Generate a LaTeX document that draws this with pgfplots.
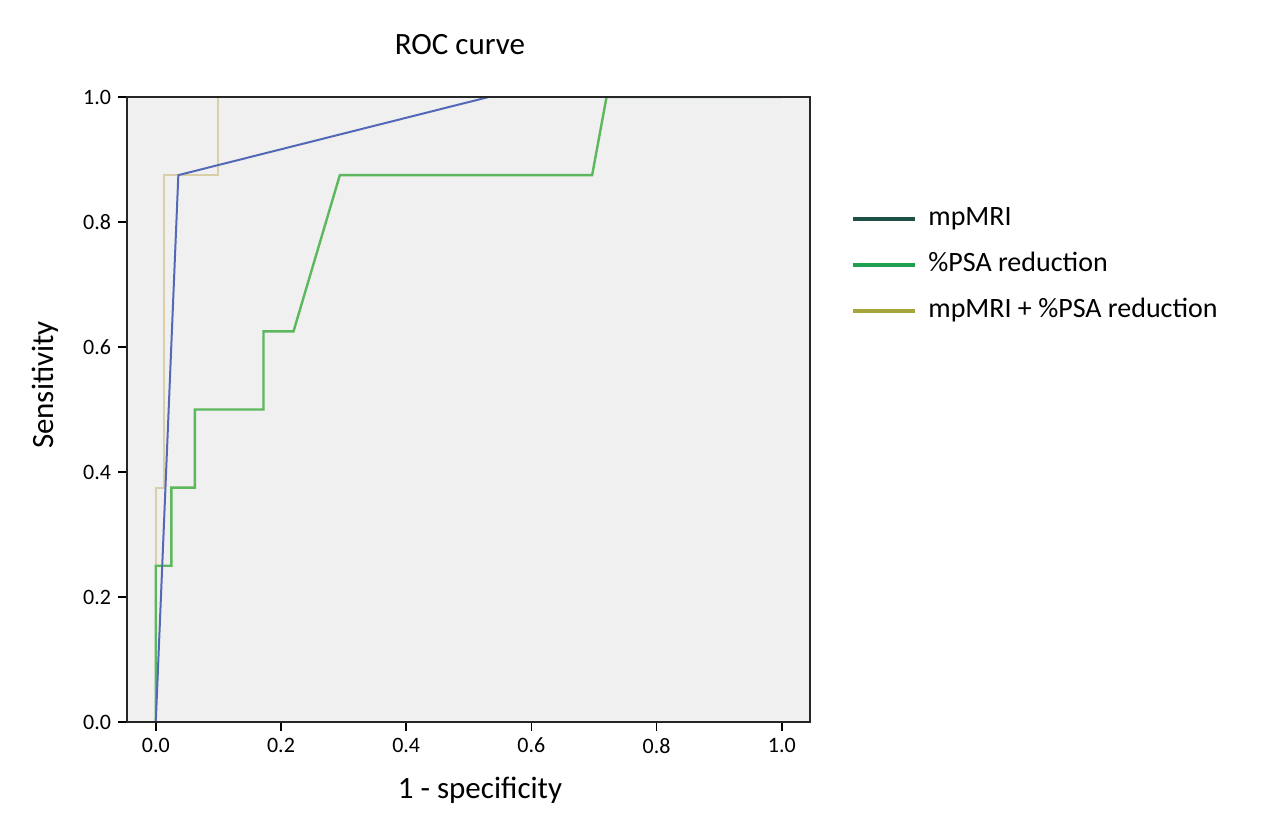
\documentclass[border=0pt]{standalone}
\usepackage{fontspec}
\setmainfont{Carlito}
\usepackage{pgfplots}
\pgfplotsset{compat=1.18}
\definecolor{bgc}{RGB}{240,240,240}
\definecolor{lblue}{RGB}{84,104,184}
\definecolor{lgreen}{RGB}{92,184,92}
\definecolor{lbeige}{RGB}{216,206,168}
\definecolor{legA}{RGB}{30,80,70}
\definecolor{legB}{RGB}{30,160,80}
\definecolor{legC}{RGB}{165,165,60}
\begin{document}
\begin{tikzpicture}
\path[use as bounding box] (-63.5bp,-51.5bp) rectangle (570bp,361bp);
\begin{axis}[
  at={(0,0)}, anchor=south west,
  scale only axis, width=341.5bp, height=312.5bp,
  xmin=-0.046, xmax=1.045, ymin=0, ymax=1,
  axis on top,
  axis background/.style={fill=bgc},
  axis line style={line width=1bp, black!85},
  tick style={line width=0.8bp, black},
  tick align=outside, major tick length=4.5bp,
  xtick={0,0.2,0.4,0.6,0.8,1}, ytick={0,0.2,0.4,0.6,0.8,1},
  xtick pos=bottom, ytick pos=left,
  ticklabel style={font=\fontsize{11bp}{12bp}\selectfont},
  /pgf/number format/fixed, /pgf/number format/fixed zerofill,
  /pgf/number format/precision=1, /pgf/number format/assume math mode=true,
  legend style={at={(1.060,0.827)}, anchor=north west, draw=none, fill=none,
    inner sep=0pt, font=\fontsize{14bp}{16bp}\selectfont, row sep=10bp,
    nodes={inner sep=0pt, text height=10bp, text depth=3bp},
    /tikz/every odd column/.append style={column sep=5.5bp}},
  legend cell align=left,
  legend image code/.code={\draw[#1, line width=2bp] (0bp,0bp) -- (31bp,0bp);},
]
\addplot[color=lbeige, line width=1bp, forget plot] coordinates {
(0,0) (0,0.375) (0.013,0.375) (0.013,0.875) (0.1,0.875) (0.1,1) (1,1)};
\addplot[color=lgreen, line width=1.2bp, forget plot] coordinates {
(0,0) (0,0.25) (0.025,0.25) (0.025,0.375) (0.0625,0.375) (0.0625,0.5) (0.172,0.5) (0.172,0.625) (0.22,0.625) (0.294,0.875) (0.697,0.875) (0.72,1) (1,1)};
\addplot[color=lblue, line width=1bp, forget plot] coordinates {
(0,0) (0.036,0.875) (0.532,1) (1,1)};
\addlegendimage{color=legA}
\addlegendentry{mpMRI}
\addlegendimage{color=legB}
\addlegendentry{\%PSA reduction}
\addlegendimage{color=legC}
\addlegendentry{mpMRI + \%PSA reduction}
\end{axis}
\node[font=\fontsize{15.5bp}{18bp}\selectfont] at (166.5bp,338.5bp) {ROC curve};
\node[font=\fontsize{15.5bp}{18bp}\selectfont] at (176.5bp,-34bp) {1 - specificity};
\node[font=\fontsize{15.5bp}{18bp}\selectfont, rotate=90] at (-41bp,168.5bp) {Sensitivity};
\end{tikzpicture}
\end{document}
